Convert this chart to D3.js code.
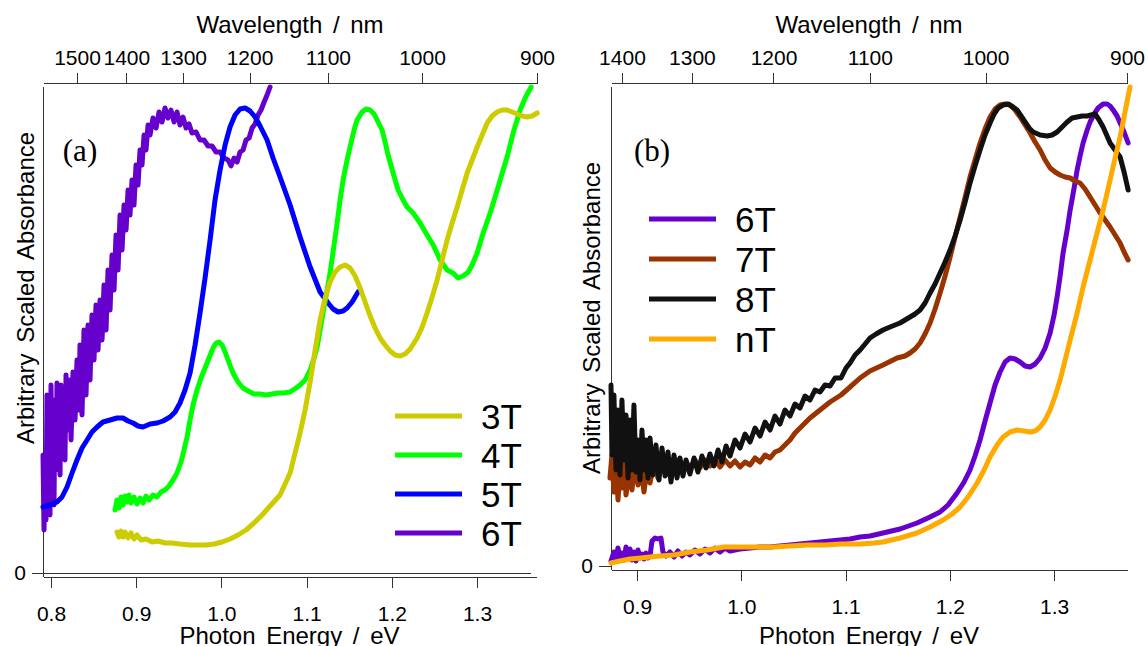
<!DOCTYPE html>
<html>
<head>
<meta charset="utf-8">
<script src="https://cdn.jsdelivr.net/npm/d3@7"></script>
<style>
	body { margin: 0; background: #fff; }
	svg { display: block; }
	.axis path, .axis line { stroke: #333; stroke-width: 1; shape-rendering: crispEdges; }
	.axis text { font-family: "Liberation Sans", Arial, sans-serif; font-size: 21px; fill: #000; }
	.title { font-family: "Liberation Sans", Arial, sans-serif; font-size: 24px; word-spacing: 4px; fill: #000; }
	.legend text { font-family: "Liberation Sans", Arial, sans-serif; font-size: 35px; fill: #000; }
	.tag { font-family: "Liberation Serif", "DejaVu Serif", serif; font-size: 31px; fill: #000; }
	.trace { fill: none; stroke-width: 5; stroke-linejoin: round; stroke-linecap: round; }
</style>
</head>
<body>
<svg id="chart" width="1148" height="646"></svg>
<script>
/*********************************************************\
* Absorption spectra, panels (a) and (b)                  *
\*********************************************************/

// photon energy (eV), arbitrary scaled absorbance

var a3T = [[0.8775,0.41],[0.8798,0.36],[0.8822,0.42],[0.8845,0.36],[0.8869,0.41],[0.8904,0.35],
	[0.8939,0.40],[0.8974,0.34],[0.9010,0.38],[0.9057,0.33],[0.9115,0.34],[0.9186,0.31],[0.9256,0.32],
	[0.9338,0.30],[0.9420,0.30],[0.9514,0.29],[0.9632,0.28],[0.9726,0.28],[0.9820,0.28],[0.9914,0.29],
	[1.0008,0.31],[1.0101,0.34],[1.0195,0.38],[1.0289,0.43],[1.0383,0.50],[1.0477,0.58],[1.0571,0.67],
	[1.0688,0.78],[1.0806,1.00],[1.0923,1.40],[1.0982,1.63],[1.1041,1.91],[1.1100,2.23],[1.1158,2.53],
	[1.1217,2.75],[1.1275,2.91],[1.1334,3.01],[1.1393,3.06],[1.1452,3.08],[1.1510,3.05],[1.1569,2.97],
	[1.1628,2.85],[1.1686,2.71],[1.1745,2.57],[1.1804,2.45],[1.1862,2.35],[1.1921,2.28],[1.1980,2.22],
	[1.2039,2.18],[1.2097,2.17],[1.2156,2.19],[1.2215,2.24],[1.2297,2.35],[1.2356,2.46],[1.2414,2.60],
	[1.2473,2.76],[1.2532,2.93],[1.2590,3.13],[1.2649,3.33],[1.2708,3.50],[1.2767,3.66],[1.2825,3.83],
	[1.2884,4.00],[1.2943,4.13],[1.3001,4.26],[1.3060,4.38],[1.3119,4.50],[1.3177,4.57],[1.3236,4.61],
	[1.3295,4.63],[1.3353,4.63],[1.3412,4.61],[1.3471,4.59],[1.3529,4.57],[1.3588,4.56],[1.3647,4.57],
	[1.3706,4.60]];

var a4T = [[0.8751,0.63],[0.8775,0.73],[0.8798,0.65],[0.8822,0.76],[0.8845,0.68],[0.8869,0.77],
	[0.8892,0.71],[0.8916,0.78],[0.8939,0.70],[0.8974,0.76],[0.9010,0.69],[0.9045,0.75],[0.9080,0.70],
	[0.9115,0.77],[0.9151,0.73],[0.9197,0.78],[0.9244,0.76],[0.9291,0.81],[0.9338,0.83],[0.9385,0.87],
	[0.9432,0.93],[0.9479,1.00],[0.9526,1.11],[0.9561,1.23],[0.9597,1.36],[0.9632,1.53],[0.9667,1.68],
	[0.9714,1.83],[0.9761,1.95],[0.9808,2.05],[0.9855,2.15],[0.9902,2.25],[0.9937,2.30],[0.9972,2.31],
	[1.0008,2.28],[1.0043,2.21],[1.0078,2.13],[1.0113,2.05],[1.0148,1.98],[1.0195,1.91],[1.0254,1.85],
	[1.0313,1.82],[1.0383,1.79],[1.0454,1.79],[1.0524,1.78],[1.0595,1.79],[1.0665,1.80],[1.0735,1.80],
	[1.0806,1.81],[1.0876,1.85],[1.0923,1.88],[1.0982,1.93],[1.1041,2.03],[1.1088,2.15],[1.1123,2.26],
	[1.1158,2.43],[1.1193,2.60],[1.1240,2.83],[1.1275,3.00],[1.1322,3.28],[1.1358,3.50],[1.1393,3.73],
	[1.1428,3.93],[1.1475,4.13],[1.1510,4.26],[1.1557,4.43],[1.1592,4.53],[1.1651,4.61],[1.1698,4.64],
	[1.1745,4.63],[1.1792,4.59],[1.1827,4.53],[1.1886,4.43],[1.1921,4.31],[1.1956,4.18],[1.2015,4.00],
	[1.2074,3.83],[1.2132,3.73],[1.2179,3.66],[1.2250,3.60],[1.2332,3.50],[1.2414,3.38],[1.2485,3.28],
	[1.2567,3.13],[1.2649,3.03],[1.2719,3.00],[1.2778,2.95],[1.2837,2.97],[1.2897,3.01],[1.2943,3.08],
	[1.3001,3.20],[1.3072,3.40],[1.3154,3.60],[1.3248,3.86],[1.3306,4.03],[1.3353,4.16],[1.3424,4.40],
	[1.3506,4.63],[1.3565,4.75],[1.3635,4.86]];

var a5T = [[0.7906,0.66],[0.7988,0.68],[0.8070,0.71],[0.8129,0.76],[0.8188,0.86],[0.8247,1.00],
	[0.8305,1.13],[0.8364,1.25],[0.8423,1.33],[0.8481,1.41],[0.8540,1.46],[0.8610,1.51],[0.8693,1.53],
	[0.8775,1.55],[0.8845,1.55],[0.8904,1.52],[0.8963,1.50],[0.9021,1.47],[0.9080,1.46],[0.9162,1.49],
	[0.9244,1.50],[0.9315,1.52],[0.9397,1.56],[0.9456,1.61],[0.9514,1.70],[0.9573,1.83],[0.9632,2.00],
	[0.9691,2.28],[0.9749,2.60],[0.9808,2.95],[0.9867,3.33],[0.9925,3.73],[0.9984,4.03],[1.0043,4.28],
	[1.0101,4.46],[1.0160,4.58],[1.0219,4.64],[1.0278,4.65],[1.0336,4.62],[1.0395,4.56],[1.0454,4.47],
	[1.0536,4.33],[1.0606,4.15],[1.0688,3.96],[1.0806,3.68],[1.0923,3.36],[1.1041,3.06],[1.1158,2.81],
	[1.1252,2.70],[1.1311,2.64],[1.1369,2.61],[1.1428,2.62],[1.1475,2.65],[1.1534,2.71],[1.1604,2.81]];

var a6T = [[0.7906,1.18],[0.7918,0.43],[0.7930,1.03],[0.7941,0.53],[0.7953,1.78],[0.7965,0.73],
	[0.7977,1.43],[0.7988,0.58],[0.8000,1.88],[0.8012,0.93],[0.8023,1.53],[0.8035,0.68],[0.8047,1.73],
	[0.8059,1.03],[0.8070,1.90],[0.8082,1.13],[0.8094,1.63],[0.8106,0.98],[0.8117,1.88],[0.8129,1.28],
	[0.8153,1.73],[0.8164,1.13],[0.8176,1.98],[0.8200,1.43],[0.8223,1.93],[0.8235,1.33],[0.8258,2.01],
	[0.8282,1.53],[0.8305,2.13],[0.8329,1.63],[0.8340,2.28],[0.8364,1.58],[0.8387,2.43],[0.8411,1.78],
	[0.8434,2.48],[0.8458,1.93],[0.8481,2.58],[0.8505,2.13],[0.8528,2.68],[0.8552,2.23],[0.8575,2.73],
	[0.8599,2.33],[0.8622,2.88],[0.8646,2.43],[0.8669,3.03],[0.8693,2.63],[0.8716,3.18],[0.8740,2.83],
	[0.8763,3.38],[0.8787,3.03],[0.8810,3.58],[0.8834,3.23],[0.8857,3.68],[0.8881,3.43],[0.8904,3.83],
	[0.8927,3.58],[0.8951,3.93],[0.8974,3.68],[0.8998,4.08],[0.9021,3.88],[0.9045,4.23],[0.9068,4.08],
	[0.9092,4.38],[0.9115,4.23],[0.9139,4.48],[0.9162,4.38],[0.9197,4.55],[0.9233,4.45],[0.9268,4.61],
	[0.9303,4.51],[0.9338,4.65],[0.9373,4.55],[0.9408,4.63],[0.9444,4.51],[0.9479,4.61],[0.9514,4.48],
	[0.9549,4.56],[0.9585,4.45],[0.9620,4.49],[0.9655,4.40],[0.9702,4.41],[0.9749,4.33],[0.9796,4.33],
	[0.9843,4.27],[0.9890,4.27],[0.9937,4.21],[0.9984,4.21],[1.0031,4.15],[1.0078,4.13],[1.0113,4.07],
	[1.0148,4.15],[1.0184,4.11],[1.0219,4.21],[1.0254,4.23],[1.0289,4.33],[1.0325,4.35],[1.0360,4.45],
	[1.0395,4.49],[1.0430,4.58],[1.0465,4.63],[1.0501,4.71],[1.0536,4.78],[1.0571,4.86]];

var b6T = [[0.8751,0.05],[0.8779,0.14],[0.8799,0.06],[0.8818,0.18],[0.8837,0.07],[0.8856,0.13],
	[0.8875,0.06],[0.8895,0.19],[0.8914,0.08],[0.8933,0.17],[0.8952,0.06],[0.8971,0.14],[0.8990,0.05],
	[0.9010,0.16],[0.9029,0.08],[0.9048,0.12],[0.9067,0.07],[0.9086,0.13],[0.9105,0.08],[0.9125,0.10],
	[0.9144,0.25],[0.9173,0.28],[0.9201,0.27],[0.9230,0.28],[0.9249,0.14],[0.9278,0.10],[0.9316,0.14],
	[0.9355,0.09],[0.9393,0.15],[0.9432,0.10],[0.9470,0.14],[0.9508,0.11],[0.9556,0.16],[0.9604,0.12],
	[0.9652,0.17],[0.9700,0.13],[0.9748,0.18],[0.9796,0.14],[0.9844,0.18],[0.9892,0.15],[0.9988,0.17],
	[1.0084,0.18],[1.0180,0.19],[1.0276,0.19],[1.0371,0.20],[1.0467,0.21],[1.0563,0.22],[1.0659,0.23],
	[1.0755,0.24],[1.0851,0.25],[1.0947,0.26],[1.1043,0.27],[1.1139,0.29],[1.1234,0.30],[1.1359,0.33],
	[1.1522,0.37],[1.1685,0.43],[1.1810,0.49],[1.1906,0.54],[1.1982,0.61],[1.2069,0.73],[1.2136,0.84],
	[1.2193,0.96],[1.2241,1.10],[1.2289,1.26],[1.2337,1.45],[1.2385,1.63],[1.2433,1.81],[1.2481,1.94],
	[1.2529,2.04],[1.2577,2.08],[1.2625,2.07],[1.2673,2.04],[1.2721,2.00],[1.2769,1.99],[1.2817,2.02],
	[1.2865,2.08],[1.2913,2.18],[1.2961,2.33],[1.2999,2.51],[1.3028,2.69],[1.3057,2.90],[1.3085,3.13],
	[1.3124,3.36],[1.3153,3.56],[1.3191,3.78],[1.3220,3.96],[1.3248,4.10],[1.3277,4.23],[1.3316,4.36],
	[1.3344,4.44],[1.3383,4.52],[1.3421,4.58],[1.3469,4.62],[1.3507,4.62],[1.3536,4.60],[1.3565,4.56],
	[1.3603,4.50],[1.3632,4.43],[1.3670,4.34],[1.3709,4.23]];

var b7T = [[0.8741,0.88],[0.8760,1.11],[0.8779,0.74],[0.8799,1.06],[0.8818,0.66],[0.8837,0.96],
	[0.8856,0.78],[0.8875,1.08],[0.8895,0.71],[0.8923,0.96],[0.8952,0.76],[0.8981,1.04],[0.9010,0.81],
	[0.9038,1.00],[0.9067,0.74],[0.9096,0.96],[0.9125,0.83],[0.9163,1.04],[0.9201,0.88],[0.9240,1.06],
	[0.9278,0.91],[0.9316,1.04],[0.9355,0.94],[0.9393,1.06],[0.9432,0.96],[0.9470,1.04],[0.9508,0.98],
	[0.9556,1.06],[0.9604,0.98],[0.9652,1.06],[0.9700,1.00],[0.9748,1.07],[0.9796,0.99],[0.9844,1.06],
	[0.9892,1.00],[0.9940,1.05],[0.9988,0.99],[1.0036,1.04],[1.0084,1.01],[1.0132,1.08],[1.0180,1.04],
	[1.0228,1.11],[1.0276,1.08],[1.0323,1.14],[1.0371,1.16],[1.0419,1.21],[1.0467,1.26],[1.0515,1.33],
	[1.0563,1.38],[1.0659,1.48],[1.0755,1.56],[1.0851,1.64],[1.0956,1.71],[1.1043,1.79],[1.1139,1.88],
	[1.1234,1.95],[1.1359,2.01],[1.1493,2.08],[1.1570,2.10],[1.1618,2.13],[1.1666,2.17],[1.1714,2.23],
	[1.1762,2.32],[1.1810,2.43],[1.1858,2.57],[1.1906,2.73],[1.1954,2.90],[1.2002,3.09],[1.2050,3.29],
	[1.2098,3.49],[1.2146,3.69],[1.2193,3.89],[1.2241,4.06],[1.2289,4.23],[1.2337,4.37],[1.2385,4.49],
	[1.2433,4.57],[1.2481,4.61],[1.2529,4.62],[1.2577,4.61],[1.2625,4.56],[1.2673,4.49],[1.2721,4.41],
	[1.2769,4.33],[1.2817,4.24],[1.2865,4.16],[1.2913,4.06],[1.2961,3.98],[1.3009,3.94],[1.3057,3.91],
	[1.3105,3.89],[1.3153,3.88],[1.3200,3.85],[1.3248,3.83],[1.3296,3.77],[1.3344,3.69],[1.3392,3.61],
	[1.3440,3.53],[1.3488,3.46],[1.3536,3.39],[1.3584,3.31],[1.3632,3.23],[1.3670,3.14],[1.3709,3.06]];

var b8T = [[0.8751,1.81],[0.8760,1.11],[0.8779,1.71],[0.8799,0.96],[0.8818,1.56],[0.8837,0.91],
	[0.8856,1.66],[0.8875,1.06],[0.8895,1.51],[0.8914,0.88],[0.8933,1.46],[0.8952,0.96],[0.8971,1.61],
	[0.8990,0.94],[0.9010,1.26],[0.9029,0.86],[0.9048,1.36],[0.9067,0.96],[0.9086,1.26],[0.9105,0.88],
	[0.9125,1.28],[0.9153,0.91],[0.9182,1.21],[0.9211,0.86],[0.9240,1.18],[0.9269,0.90],[0.9297,1.14],
	[0.9326,0.84],[0.9355,1.11],[0.9384,0.88],[0.9412,1.08],[0.9441,0.90],[0.9470,1.06],[0.9508,0.92],
	[0.9547,1.08],[0.9585,0.94],[0.9623,1.10],[0.9662,0.98],[0.9700,1.12],[0.9738,1.00],[0.9777,1.16],
	[0.9815,1.04],[0.9854,1.20],[0.9892,1.10],[0.9940,1.26],[0.9988,1.18],[1.0036,1.32],[1.0084,1.24],
	[1.0132,1.38],[1.0180,1.30],[1.0228,1.44],[1.0276,1.36],[1.0323,1.50],[1.0371,1.42],[1.0419,1.56],
	[1.0467,1.50],[1.0515,1.62],[1.0563,1.58],[1.0611,1.70],[1.0659,1.66],[1.0707,1.76],[1.0755,1.74],
	[1.0803,1.81],[1.0851,1.80],[1.0899,1.88],[1.0956,1.88],[1.1004,1.98],[1.1043,2.03],[1.1091,2.11],
	[1.1139,2.16],[1.1187,2.22],[1.1234,2.28],[1.1292,2.32],[1.1359,2.36],[1.1426,2.39],[1.1522,2.43],
	[1.1570,2.46],[1.1618,2.49],[1.1666,2.52],[1.1714,2.56],[1.1762,2.63],[1.1810,2.73],[1.1858,2.82],
	[1.1906,2.93],[1.1954,3.04],[1.2002,3.16],[1.2050,3.30],[1.2098,3.46],[1.2146,3.64],[1.2193,3.83],
	[1.2241,4.00],[1.2289,4.16],[1.2337,4.31],[1.2385,4.43],[1.2424,4.52],[1.2462,4.58],[1.2510,4.61],
	[1.2558,4.62],[1.2606,4.59],[1.2644,4.56],[1.2683,4.50],[1.2721,4.44],[1.2759,4.38],[1.2798,4.34],
	[1.2865,4.31],[1.2932,4.30],[1.2980,4.31],[1.3028,4.34],[1.3076,4.39],[1.3124,4.44],[1.3172,4.48],
	[1.3220,4.49],[1.3268,4.50],[1.3316,4.50],[1.3354,4.51],[1.3392,4.52],[1.3431,4.46],[1.3469,4.39],
	[1.3507,4.30],[1.3536,4.23],[1.3584,4.16],[1.3632,4.09],[1.3670,3.94],[1.3709,3.76]];

var bnT = [[0.8751,0.03],[0.8837,0.05],[0.8933,0.07],[0.9038,0.08],[0.9125,0.09],[0.9221,0.10],
	[0.9355,0.11],[0.9508,0.14],[0.9671,0.16],[0.9834,0.19],[0.9997,0.19],[1.0180,0.19],[1.0314,0.19],
	[1.0467,0.20],[1.0630,0.21],[1.0803,0.21],[1.0956,0.22],[1.1139,0.22],[1.1273,0.23],[1.1359,0.24],
	[1.1522,0.28],[1.1685,0.33],[1.1810,0.39],[1.1935,0.46],[1.2021,0.52],[1.2098,0.59],[1.2174,0.69],
	[1.2261,0.83],[1.2328,0.96],[1.2385,1.09],[1.2452,1.21],[1.2510,1.29],[1.2577,1.34],[1.2644,1.36],
	[1.2711,1.35],[1.2769,1.34],[1.2817,1.35],[1.2865,1.39],[1.2913,1.46],[1.2961,1.56],[1.3009,1.70],
	[1.3057,1.86],[1.3105,2.06],[1.3153,2.26],[1.3220,2.53],[1.3277,2.79],[1.3344,3.06],[1.3411,3.33],
	[1.3469,3.56],[1.3536,3.86],[1.3584,4.08],[1.3632,4.29],[1.3679,4.54],[1.3727,4.79]];

var seriesA = ['3T', '4T', '5T', '6T'];
var seriesB = ['6T', '7T', '8T', 'nT'];
var colors = { '3T': '#cccc00', '4T': '#00ff00', '5T': '#0000ff', '6T': '#6600cc',
	'7T': '#993300', '8T': '#111111', 'nT': '#ffaa00' };

var energyTicksA = [0.8, 0.9, 1.0, 1.1, 1.2, 1.3];
var energyTicksB = [0.9, 1.0, 1.1, 1.2, 1.3];
var waveTicksA = [1500, 1400, 1300, 1200, 1100, 1000, 900];
var waveTicksB = [1400, 1300, 1200, 1100, 1000, 900];

var HC = 1239.84;   // eV nm

//- - - - - - - - - - - - - - - - - - - - - - - - - - - - - - - - - - - - - - -

var svg = d3.select('#chart');

function Panel(opt)
{
	var g = svg.append('g');

	var x = d3.scaleLinear().domain(opt.eDomain).range([opt.left, opt.right]);
	var y = d3.scaleLinear().domain([0, opt.vTop]).range([opt.zero, opt.top]);
	// top axis: wavelength, linear in 1/lambda
	var xTop = d3.scalePow().exponent(-1)
		.domain([HC / opt.eTopDomain[0], HC / opt.eTopDomain[1]])
		.range([opt.left, opt.topRight]);

	if (opt.zeroLine)
		g.append('line').attr('class', 'zero')
			.attr('x1', opt.left).attr('x2', opt.zeroLine)
			.attr('y1', y(0)).attr('y2', y(0))
			.attr('stroke', '#333').attr('shape-rendering', 'crispEdges');

	g.append('g').attr('class', 'axis')
		.attr('transform', 'translate(0,' + opt.bottom + ')')
		.call(d3.axisBottom(x).tickValues(opt.eTicks).tickFormat(d3.format('.1f'))
			.tickSize(11).tickSizeOuter(0).tickPadding(18));

	g.append('g').attr('class', 'axis')
		.attr('transform', 'translate(0,' + opt.axisTop + ')')
		.call(d3.axisTop(xTop).tickValues(opt.wTicks).tickFormat(d3.format('d'))
			.tickSize(10).tickSizeOuter(0).tickPadding(8));

	var left = g.append('g').attr('class', 'axis')
		.attr('transform', 'translate(' + opt.left + ',0)')
		.call(d3.axisLeft(y).tickValues([0]).tickFormat(d3.format('d'))
			.tickSize(opt.zeroTick).tickSizeOuter(0).tickPadding(6));
	left.select('.domain').attr('d', 'M0,' + opt.bottom + 'V' + opt.top);

	var line = d3.line()
		.x(function (d) { return x(d[0]); })
		.y(function (d) { return y(d[1]); });

	g.append('g').attr('class', 'traces')
		.selectAll('path')
		.data(opt.draw)
		.enter()
		.append('path')
		.attr('class', 'trace')
		.attr('stroke', function (d) { return colors[d.name]; })
		.attr('d', function (d) { return line(d.values); });

	var legend = g.append('g').attr('class', 'legend')
		.selectAll('g')
		.data(opt.names)
		.enter()
		.append('g')
		.attr('transform', function (d, i) {
			return 'translate(' + opt.legend[0] + ',' + (opt.legend[1] + i * opt.legend[2]) + ')';
		});
	legend.append('line')
		.attr('x1', 0).attr('x2', 67)
		.attr('stroke', function (d) { return colors[d]; })
		.attr('stroke-width', 5);
	legend.append('text')
		.attr('x', 86).attr('dy', '0.36em')
		.text(function (d) { return d; });

	g.append('text').attr('class', 'title')
		.attr('x', (opt.left + opt.right) / 2).attr('y', 644)
		.attr('text-anchor', 'middle')
		.text('Photon Energy / eV');
	g.append('text').attr('class', 'title')
		.attr('x', (opt.left + opt.topRight) / 2).attr('y', 33)
		.attr('text-anchor', 'middle')
		.text('Wavelength / nm');
	g.append('text').attr('class', 'title')
		.attr('transform', 'translate(' + opt.yTitle[0] + ',' + opt.yTitle[1] + ') rotate(-90)')
		.attr('text-anchor', 'middle').attr('dy', '0.36em')
		.text('Arbitrary Scaled Absorbance');

	g.append('text').attr('class', 'tag')
		.attr('x', opt.tag[0]).attr('y', opt.tag[1])
		.attr('text-anchor', 'middle')
		.text(opt.tagText);
}

//------------------------------------------------------------------------------

new Panel({
	left: 43, right: 536, topRight: 537, top: 87, zero: 573, bottom: 577, axisTop: 83,
	eDomain: [0.7906, 1.3692], eTopDomain: [0.7858, 1.3776], vTop: 4.86,
	eTicks: energyTicksA, wTicks: waveTicksA, zeroTick: 11, zeroLine: 531,
	names: seriesA,
	draw: [{ name: '6T', values: a6T }, { name: '5T', values: a5T },
		{ name: '4T', values: a4T }, { name: '3T', values: a3T }],
	legend: [395, 416, 39], yTitle: [25, 288], tag: [80, 161], tagText: '(a)'
});

new Panel({
	left: 611, right: 1127, topRight: 1127, top: 87, zero: 566, bottom: 570, axisTop: 83,
	eDomain: [0.8751, 1.3698], eTopDomain: [0.8749, 1.3776], vTop: 4.79,
	eTicks: energyTicksB, wTicks: waveTicksB, zeroTick: 12, zeroLine: 0,
	names: seriesB,
	draw: [{ name: '6T', values: b6T }, { name: '7T', values: b7T },
		{ name: '8T', values: b8T }, { name: 'nT', values: bnT }],
	legend: [649, 219, 40], yTitle: [591, 318], tag: [652, 161], tagText: '(b)'
});
</script>
</body>
</html>
